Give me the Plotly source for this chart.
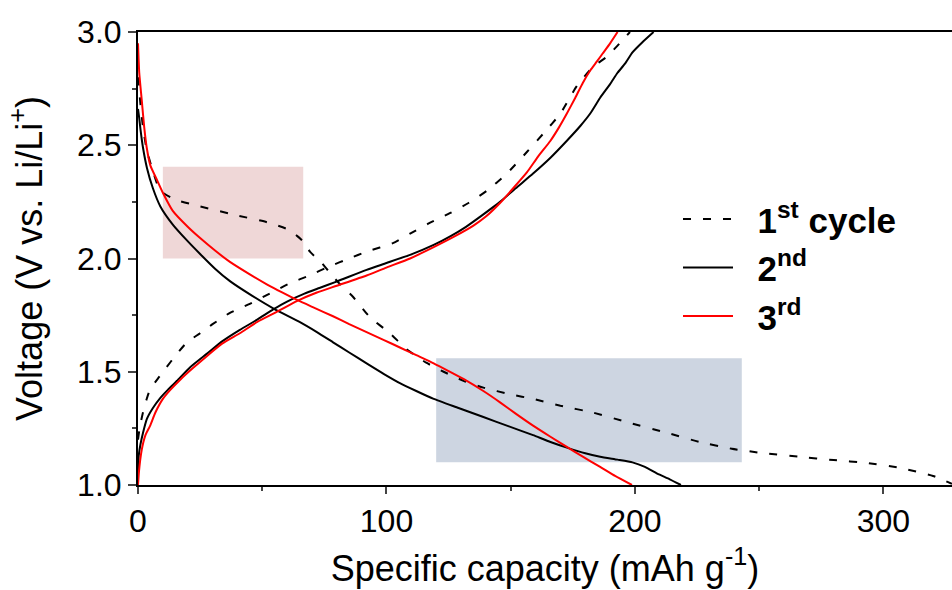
import plotly.graph_objects as go

# ---- data ----
c1_dis_x = [0, 1, 2, 3.5, 5.6, 8.9, 15, 25, 40, 52, 60, 64, 67, 69.2, 74, 78.5, 81, 86.6, 93.4, 101.4, 108, 116, 123, 131, 139, 150, 159, 170, 183, 196, 213, 226, 239, 252, 266, 280, 293, 307, 320, 327.6]
c1_dis_v = [2.80, 2.68, 2.58, 2.48, 2.40, 2.30, 2.26, 2.23, 2.19, 2.16, 2.13, 2.10, 2.07, 2.03, 1.98, 1.92, 1.89, 1.83, 1.74, 1.67, 1.60, 1.54, 1.50, 1.46, 1.43, 1.40, 1.38, 1.35, 1.32, 1.28, 1.23, 1.19, 1.16, 1.14, 1.125, 1.11, 1.098, 1.075, 1.04, 1.005]
c1_chg_x = [0, 0.5, 1, 2, 3.5, 4.8, 8, 11.5, 15, 19.7, 25, 30, 37, 45, 53, 61, 69, 77, 85, 92, 102.6, 109.5, 117, 125.5, 133, 140.5, 148, 156.5, 163, 170, 176.5, 183.2, 188.6, 193, 198]
c1_chg_v = [1.20, 1.24, 1.27, 1.32, 1.38, 1.42, 1.47, 1.52, 1.57, 1.63, 1.67, 1.71, 1.76, 1.80, 1.845, 1.89, 1.925, 1.965, 2.00, 2.03, 2.068, 2.11, 2.155, 2.20, 2.245, 2.30, 2.37, 2.47, 2.55, 2.64, 2.76, 2.847, 2.89, 2.94, 3.0]

c2_dis_x = [0, 0.5, 1, 2, 3.6, 6, 9, 14, 19.7, 25, 31, 37, 46, 54.4, 65, 72, 78.5, 85, 92, 99, 105.4, 112, 119, 129, 139, 149, 159, 166, 172.6, 180, 186, 193, 199, 204, 209, 214, 218.5]
c2_dis_v = [2.66, 2.62, 2.57, 2.49, 2.40, 2.31, 2.23, 2.15, 2.08, 2.02, 1.955, 1.90, 1.835, 1.78, 1.72, 1.675, 1.63, 1.585, 1.537, 1.49, 1.45, 1.415, 1.38, 1.34, 1.30, 1.26, 1.22, 1.19, 1.165, 1.14, 1.125, 1.112, 1.10, 1.08, 1.05, 1.025, 1.0]
c2_chg_x = [0, 0.1, 0.3, 1, 2, 3.5, 6, 9, 12, 15.7, 21, 27.8, 34, 41, 48, 54.4, 60, 67, 73, 79.9, 92, 100, 109.5, 119, 126, 132, 139, 145.7, 152, 159, 166, 172.6, 178, 182, 186, 190, 193, 196, 199, 203, 207.5]
c2_chg_v = [1.0, 1.08, 1.13, 1.18, 1.23, 1.29, 1.34, 1.385, 1.42, 1.46, 1.52, 1.58, 1.635, 1.685, 1.73, 1.775, 1.81, 1.845, 1.87, 1.898, 1.95, 1.98, 2.016, 2.06, 2.10, 2.14, 2.195, 2.25, 2.31, 2.375, 2.445, 2.52, 2.585, 2.64, 2.71, 2.77, 2.82, 2.86, 2.91, 2.955, 3.0]

c3_dis_x = [0, 0.5, 1.5, 2.5, 3.5, 5, 7.5, 10, 14, 20, 25, 31, 37, 45, 52, 58, 64, 71, 78.5, 85, 92, 99, 105.4, 112, 119, 125, 132, 139, 145.7, 152, 159, 166, 172.6, 179, 186, 192, 198.8]
c3_dis_v = [2.95, 2.82, 2.70, 2.58, 2.49, 2.41, 2.35, 2.29, 2.21, 2.14, 2.09, 2.035, 1.985, 1.93, 1.885, 1.85, 1.817, 1.782, 1.745, 1.71, 1.675, 1.64, 1.607, 1.573, 1.537, 1.503, 1.462, 1.415, 1.365, 1.315, 1.262, 1.213, 1.168, 1.125, 1.08, 1.04, 1.0]
c3_chg_x = [0, 0.3, 1.5, 3, 4.8, 7, 10, 13, 17, 22, 27.8, 34, 41, 48, 56, 63.9, 72, 80, 92, 100, 109.5, 119, 127, 135, 140, 145.7, 151, 156.5, 161, 166, 169.5, 172.6, 176, 179, 182, 184.7, 187, 190, 193]
c3_chg_v = [1.0, 1.05, 1.155, 1.22, 1.26, 1.32, 1.38, 1.42, 1.465, 1.515, 1.57, 1.625, 1.67, 1.72, 1.765, 1.812, 1.85, 1.88, 1.925, 1.96, 2.0, 2.05, 2.095, 2.145, 2.185, 2.245, 2.31, 2.38, 2.45, 2.52, 2.58, 2.64, 2.71, 2.775, 2.83, 2.87, 2.905, 2.95, 3.0]

NB = "\u00a0\u00a0"
legend_names = [NB + "<b>1<sup>st</sup> cycle</b>", NB + "<b>2<sup>nd</sup></b>", NB + "<b>3<sup>rd</sup></b>"]

# highlighted regions: (x0, x1, y0, y1)
region_pink = [10, 66.5, 2.0, 2.405]
region_blue = [120, 243, 1.10, 1.56]

x_ticks = [0, 100, 200, 300]
y_ticks = [1.0, 1.5, 2.0, 2.5, 3.0]

FONT = "Arial, 'Liberation Sans', sans-serif"

fig = go.Figure()

def add_pair(xd, vd, xc, vc, color, dash, name, group):
    fig.add_trace(go.Scatter(x=xd, y=vd, mode="lines", name=name, legendgroup=group,
                             line=dict(color=color, width=2, dash=dash, shape="spline", smoothing=0.5)))
    fig.add_trace(go.Scatter(x=xc, y=vc, mode="lines", name=name, legendgroup=group, showlegend=False,
                             line=dict(color=color, width=2, dash=dash, shape="spline", smoothing=0.5)))

add_pair(c1_dis_x, c1_dis_v, c1_chg_x, c1_chg_v, "black", "8px,12px", legend_names[0], "c1")
add_pair(c2_dis_x, c2_dis_v, c2_chg_x, c2_chg_v, "black", "solid", legend_names[1], "c2")
add_pair(c3_dis_x, c3_dis_v, c3_chg_x, c3_chg_v, "#ff0000", "solid", legend_names[2], "c3")

fig.add_shape(type="rect", xref="x", yref="y", x0=region_pink[0], x1=region_pink[1],
              y0=region_pink[2], y1=region_pink[3], fillcolor="rgb(239,215,215)", line_width=0, layer="below")
fig.add_shape(type="rect", xref="x", yref="y", x0=region_blue[0], x1=region_blue[1],
              y0=region_blue[2], y1=region_blue[3], fillcolor="rgb(205,213,225)", line_width=0, layer="below")

fig.update_layout(
    width=952, height=590,
    margin=dict(l=138, r=0, t=32, b=105, pad=0),
    plot_bgcolor="white", paper_bgcolor="white",
    font=dict(family=FONT, color="black", size=32),
    showlegend=True,
    legend=dict(x=0.6634, y=0.652, xanchor="left", yanchor="top", bgcolor="rgba(0,0,0,0)",
                font=dict(size=35, family=FONT, color="black"), itemwidth=50, tracegroupgap=0,
                traceorder="normal"),
    xaxis=dict(range=[0, 327.6], tickvals=x_ticks, ticks="outside", ticklen=7, tickwidth=2,
               showline=True, linewidth=2, linecolor="black", mirror=True, showgrid=False, zeroline=False,
               tickfont=dict(size=32),
               minor=dict(ticks="outside", ticklen=4, tickwidth=2, dtick=50, tick0=0, showgrid=False),
               title=dict(text="Specific capacity (mAh g<sup>-1</sup>)", font=dict(size=36), standoff=17)),
    yaxis=dict(range=[1.0, 3.0], tickvals=y_ticks, tickformat=".1f", ticks="outside", ticklen=8, tickwidth=2,
               showline=True, linewidth=2, linecolor="black", mirror=False, showgrid=False, zeroline=False,
               tickfont=dict(size=32),
               minor=dict(ticks="outside", ticklen=4, tickwidth=2, dtick=0.25, tick0=1.0, showgrid=False),
               title=dict(text="Voltage (V vs. Li/Li<sup>+</sup>)", font=dict(size=36), standoff=24)),
)

fig.write_html("out.html")
